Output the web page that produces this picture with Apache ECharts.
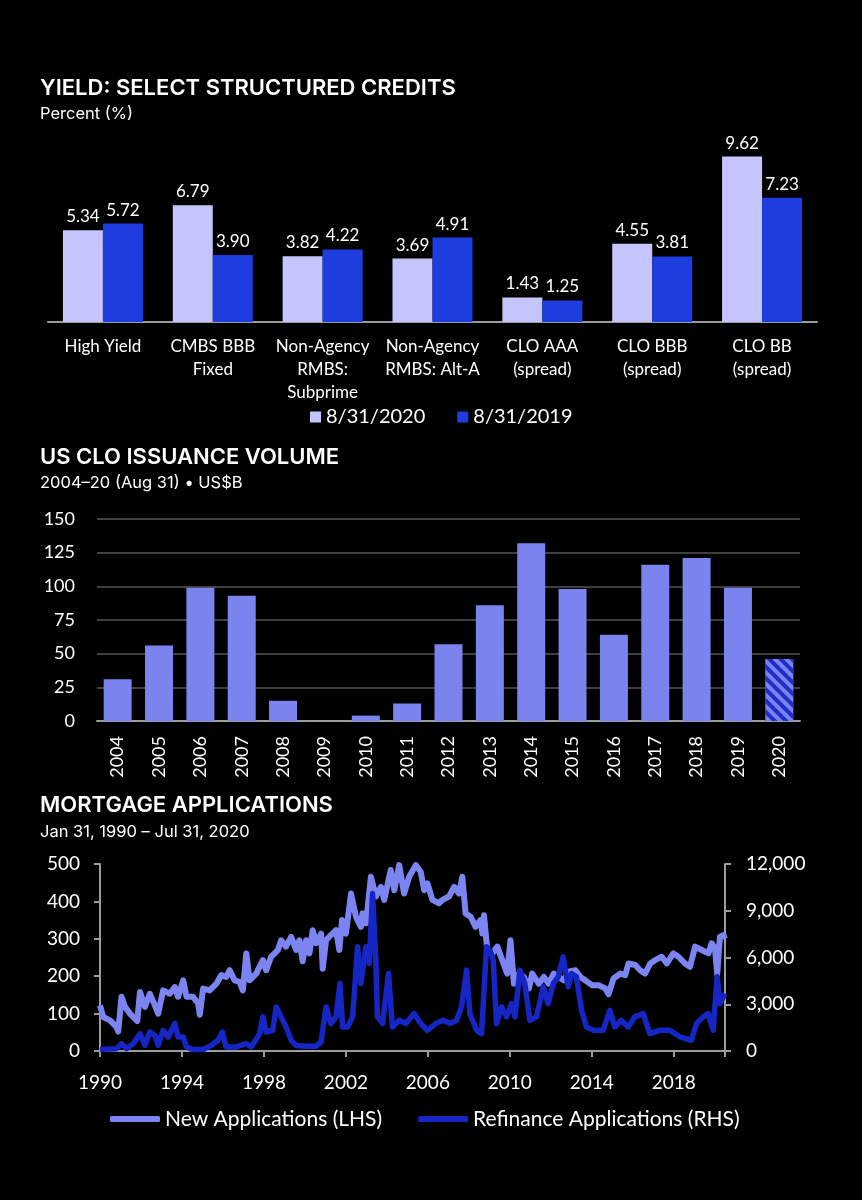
<!DOCTYPE html>
<html>
<head>
    <meta charset="UTF-8">
    <script src="https://cdn.jsdelivr.net/npm/echarts@6/dist/echarts.min.js"></script>
    <style>
        html, body { margin: 0; padding: 0; background: #000; }
        #main { width: 862px; height: 1200px; }
    </style>
</head>
<body>
<div id="main"></div>
<script>
    // yield: select structured credits (%)
    var yieldCats = ['High Yield', 'CMBS BBB\nFixed', 'Non-Agency\nRMBS:\nSubprime', 'Non-Agency\nRMBS: Alt-A',
        'CLO AAA\n(spread)', 'CLO BBB\n(spread)', 'CLO BB\n(spread)'];
    var yield2020 = [5.34, 6.79, 3.82, 3.69, 1.43, 4.55, 9.62];
    var yield2019 = [5.72, 3.90, 4.22, 4.91, 1.25, 3.81, 7.23];

    // US CLO issuance, US$B (2020 through Aug 31)
    var cloYears = ['2004', '2005', '2006', '2007', '2008', '2009', '2010', '2011', '2012',
        '2013', '2014', '2015', '2016', '2017', '2018', '2019', '2020'];
    var cloVolume = [31, 56, 99, 93, 15, 0, 4, 13, 57, 86, 132, 98, 64, 116, 121, 99, 46];

    // mortgage applications (decimal years)
    var newDates = [1990.00, 1990.16, 1990.49, 1990.81, 1990.89, 1991.05, 1991.22, 1991.46, 1991.82, 1991.95,
        1992.19, 1992.43, 1992.68, 1992.84, 1993.08, 1993.41, 1993.65, 1993.81, 1994.06, 1994.22,
        1994.54, 1994.79, 1994.87, 1995.03, 1995.35, 1995.68, 1995.92, 1996.16, 1996.33, 1996.57,
        1996.81, 1996.97, 1997.14, 1997.30, 1997.62, 1997.95, 1998.11, 1998.35, 1998.68, 1998.84,
        1999.08, 1999.33, 1999.57, 1999.73, 1999.89, 2000.06, 2000.22, 2000.38, 2000.54, 2000.79,
        2000.87, 2001.03, 2001.27, 2001.52, 2001.68, 2001.81, 2002.00, 2002.25, 2002.49, 2002.73,
        2002.81, 2002.98, 2003.22, 2003.46, 2003.71, 2003.87, 2004.19, 2004.36, 2004.60, 2004.84,
        2005.09, 2005.41, 2005.65, 2005.82, 2005.98, 2006.22, 2006.55, 2006.71, 2007.03, 2007.28,
        2007.52, 2007.68, 2007.84, 2008.09, 2008.33, 2008.57, 2008.66, 2008.74, 2008.90, 2009.14,
        2009.39, 2009.63, 2009.87, 2010.03, 2010.20, 2010.44, 2010.68, 2010.93, 2011.09, 2011.41,
        2011.66, 2011.90, 2012.14, 2012.39, 2012.63, 2012.87, 2013.20, 2013.44, 2013.68, 2014.01,
        2014.33, 2014.66, 2014.82, 2015.06, 2015.39, 2015.63, 2015.79, 2016.12, 2016.36, 2016.60,
        2016.85, 2017.09, 2017.41, 2017.66, 2017.98, 2018.23, 2018.55, 2018.79, 2019.04, 2019.36,
        2019.69, 2019.85, 2020.01, 2020.12, 2020.25, 2020.42, 2020.50];
    var newApps = [122, 91, 82, 64, 52, 145, 118, 100, 80, 158,
        118, 153, 122, 100, 162, 153, 171, 145, 189, 145,
        145, 127, 97, 167, 162, 180, 203, 198, 216, 189,
        185, 162, 261, 189, 207, 243, 216, 252, 270, 296,
        279, 305, 270, 296, 240, 296, 261, 323, 288, 314,
        220, 296, 310, 323, 270, 350, 314, 421, 359, 332,
        368, 341, 466, 413, 439, 404, 484, 430, 497, 421,
        466, 497, 479, 430, 448, 404, 395, 404, 413, 439,
        421, 466, 368, 359, 332, 350, 314, 363, 270, 261,
        279, 243, 207, 296, 180, 207, 198, 167, 207, 180,
        198, 180, 207, 198, 189, 212, 216, 198, 189, 176,
        176, 167, 152, 194, 207, 203, 234, 230, 216, 207,
        234, 243, 252, 234, 261, 252, 234, 225, 279, 270,
        261, 288, 275, 205, 305, 310, 300];

    var refiDates = [1990.00, 1990.81, 1991.05, 1991.30, 1991.62, 1991.95, 1992.19, 1992.43, 1992.68, 1992.84,
        1993.08, 1993.33, 1993.65, 1993.81, 1994.06, 1994.22, 1994.54, 1995.03, 1995.43, 1995.76,
        1995.97, 1996.16, 1996.65, 1997.14, 1997.38, 1997.79, 1997.95, 1998.11, 1998.43, 1998.60,
        1998.84, 1999.08, 1999.33, 1999.57, 2000.06, 2000.54, 2000.79, 2001.03, 2001.27, 2001.52,
        2001.71, 2001.84, 2002.08, 2002.33, 2002.57, 2002.73, 2002.98, 2003.14, 2003.30, 2003.46,
        2003.54, 2003.79, 2004.08, 2004.27, 2004.60, 2004.92, 2005.33, 2005.65, 2005.98, 2006.38,
        2006.75, 2007.08, 2007.40, 2007.64, 2007.89, 2008.05, 2008.38, 2008.62, 2008.86, 2009.03,
        2009.19, 2009.35, 2009.60, 2009.84, 2010.08, 2010.25, 2010.49, 2010.73, 2010.98, 2011.30,
        2011.63, 2011.87, 2012.12, 2012.36, 2012.60, 2012.85, 2013.01, 2013.25, 2013.50, 2013.74,
        2014.07, 2014.55, 2014.88, 2015.12, 2015.45, 2015.77, 2016.10, 2016.51, 2016.83, 2017.32,
        2017.81, 2018.30, 2018.86, 2019.11, 2019.43, 2019.68, 2019.92, 2020.12, 2020.25, 2020.50];
    var refiApps = [100, 150, 470, 150, 470, 1110, 360, 1220, 1000, 360,
        1330, 900, 1760, 900, 900, 260, 90, 90, 360, 690,
        1220, 260, 260, 470, 260, 1110, 2190, 1220, 1330, 2830,
        2190, 1540, 690, 360, 300, 300, 580, 2830, 1760, 2190,
        4330, 1540, 1540, 2190, 6690, 4330, 6690, 5620, 10100, 5830,
        2190, 1760, 4970, 1540, 1970, 1760, 2400, 1760, 1330, 1760,
        1970, 1760, 1970, 2830, 5190, 2400, 1330, 1110, 6690, 6470,
        5830, 1760, 2830, 2190, 3040, 2190, 5190, 4330, 1970, 2190,
        4120, 3040, 4330, 4760, 6040, 4120, 4970, 4760, 2610, 1540,
        1330, 1330, 2610, 1540, 1970, 1540, 2190, 2400, 1110, 1330,
        1330, 900, 690, 1760, 2190, 2400, 1330, 4760, 3040, 3690];

    var FONT = 'Lato, "Noto Sans", sans-serif';
    var TITLE_FONT = 'Inter, "Noto Sans", sans-serif';
    var AXIS_GREY = '#9c9c9c';

    function titleItem(text, top, size, weight) {
        return {
            text: text, left: 40, top: top, padding: 0,
            textStyle: {color: '#fff', fontFamily: TITLE_FONT, fontSize: size, fontWeight: weight, lineHeight: size + 4}
        };
    }

    var cloData = cloVolume.map(function (v, i) {
        if (i === cloVolume.length - 1) {
            return {
                value: v,
                itemStyle: {
                    decal: {
                        symbol: 'rect', symbolSize: 1, dashArrayX: [1, 0], dashArrayY: [4, 4],
                        rotation: Math.PI / 4, color: '#1f2ec6'
                    }
                }
            };
        }
        return v;
    });

    var myChart = echarts.init(document.getElementById('main'));
    var option = {
        backgroundColor: '#000',
        animation: false,
        textStyle: {fontFamily: FONT},
        title: [
            titleItem('YIELD: SELECT STRUCTURED CREDITS', 75, 22, 600),
            titleItem('Percent (%)', 104, 16.5, 400),
            titleItem('US CLO ISSUANCE VOLUME', 444, 22, 600),
            titleItem('2004–20 (Aug 31) • US$B', 473, 16.5, 400),
            titleItem('MORTGAGE APPLICATIONS', 792, 22, 600),
            titleItem('Jan 31, 1990 – Jul 31, 2020', 822, 16.5, 400)
        ],
        legend: [
            {
                data: ['8/31/2020', '8/31/2019'], left: 310, top: 406, padding: 0, icon: 'rect',
                itemWidth: 11, itemHeight: 11, itemGap: 32,
                textStyle: {color: '#fff', fontSize: 20, lineHeight: 22, fontFamily: FONT}
            },
            {
                data: ['New Applications (LHS)', 'Refinance Applications (RHS)'], left: 110, top: 1107, padding: 0,
                icon: 'roundRect', itemWidth: 50, itemHeight: 6, itemGap: 36,
                textStyle: {color: '#fff', fontSize: 21, lineHeight: 24, fontFamily: FONT}
            }
        ],
        grid: [
            {left: 48, width: 769, top: 150, height: 172},
            {left: 97, width: 703, top: 519, height: 202},
            {left: 100, width: 625, top: 864, height: 187}
        ],
        xAxis: [
            {
                type: 'category', gridIndex: 0, data: yieldCats,
                axisLine: {lineStyle: {color: AXIS_GREY, width: 2}},
                axisTick: {show: false},
                axisLabel: {color: '#fff', fontSize: 17, lineHeight: 23, margin: 13, interval: 0}
            },
            {
                type: 'category', gridIndex: 1, data: cloYears,
                axisLine: {lineStyle: {color: AXIS_GREY, width: 2}},
                axisTick: {show: false},
                axisLabel: {color: '#fff', fontSize: 18, rotate: 90, margin: 15, interval: 0}
            },
            {
                type: 'value', gridIndex: 2, min: 1990, max: 2020.5, interval: 4,
                axisLine: {lineStyle: {color: AXIS_GREY, width: 2}},
                axisTick: {show: true, length: 6, lineStyle: {color: AXIS_GREY, width: 2}},
                splitLine: {show: false},
                axisLabel: {
                    color: '#fff', fontSize: 19, margin: 22,
                    formatter: function (v) { return (v - 1990) % 4 === 0 ? String(v) : ''; }
                }
            }
        ],
        yAxis: [
            {type: 'value', gridIndex: 0, min: 0, max: 10, show: false},
            {
                type: 'value', gridIndex: 1, min: 0, max: 150, interval: 25,
                axisLine: {show: false}, axisTick: {show: false},
                splitLine: {lineStyle: {color: '#555', width: 1.5}},
                axisLabel: {color: '#fff', fontSize: 18, margin: 22}
            },
            {
                type: 'value', gridIndex: 2, min: 0, max: 500, interval: 100, position: 'left',
                axisLine: {show: true, lineStyle: {color: AXIS_GREY, width: 2}},
                axisTick: {show: true, length: 6, lineStyle: {color: AXIS_GREY, width: 2}},
                splitLine: {show: false},
                axisLabel: {color: '#fff', fontSize: 19, margin: 20}
            },
            {
                type: 'value', gridIndex: 2, min: 0, max: 12000, interval: 3000, position: 'right',
                axisLine: {show: true, lineStyle: {color: AXIS_GREY, width: 2}},
                axisTick: {show: true, length: 6, lineStyle: {color: AXIS_GREY, width: 2}},
                splitLine: {show: false},
                axisLabel: {color: '#fff', fontSize: 19, margin: 21}
            }
        ],
        series: [
            {
                name: '8/31/2020', type: 'bar', xAxisIndex: 0, yAxisIndex: 0, data: yield2020,
                barWidth: 40, barGap: '0%', itemStyle: {color: '#c6c5fb'},
                label: {show: true, position: 'top', distance: 5, color: '#fff', fontSize: 17, formatter: function (p) { return p.value.toFixed(2); }}
            },
            {
                name: '8/31/2019', type: 'bar', xAxisIndex: 0, yAxisIndex: 0, data: yield2019,
                barWidth: 40, barGap: '0%', itemStyle: {color: '#1e3ddf'},
                label: {show: true, position: 'top', distance: 5, color: '#fff', fontSize: 17, formatter: function (p) { return p.value.toFixed(2); }}
            },
            {
                name: 'CLO issuance', type: 'bar', xAxisIndex: 1, yAxisIndex: 1, data: cloData,
                barWidth: 28, itemStyle: {color: '#7b83ee'}
            },
            {
                name: 'New Applications (LHS)', type: 'line', xAxisIndex: 2, yAxisIndex: 2,
                data: newDates.map(function (d, i) { return [d, newApps[i]]; }),
                symbol: 'none', lineStyle: {color: '#7c84f2', width: 6, join: 'round'}, itemStyle: {color: '#7c84f2'}
            },
            {
                name: 'Refinance Applications (RHS)', type: 'line', xAxisIndex: 2, yAxisIndex: 3,
                data: refiDates.map(function (d, i) { return [d, refiApps[i]]; }),
                symbol: 'none', lineStyle: {color: '#1626c4', width: 5.5, join: 'round'}, itemStyle: {color: '#1626c4'}
            }
        ]
    };
    myChart.setOption(option);
</script>
</body>
</html>
